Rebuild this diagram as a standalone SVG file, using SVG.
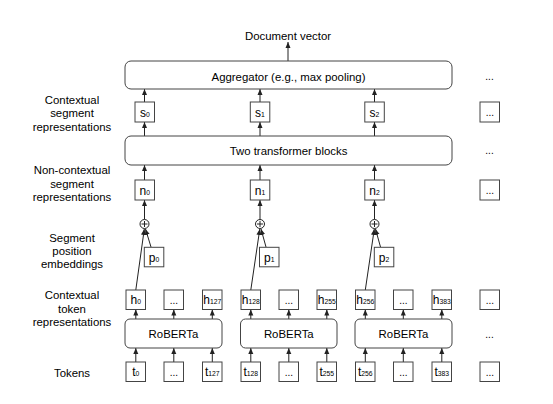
<svg xmlns="http://www.w3.org/2000/svg" width="553" height="404" viewBox="0 0 553 404">
<defs>
<style>
text{font-family:"Liberation Sans",Arial,sans-serif;fill:#000;}
.lbl{font-size:11.4px;text-anchor:middle;}
.bt{font-size:12px;text-anchor:middle;}
.sub{font-size:6.8px;}
.box{fill:#fff;stroke:#444;stroke-width:1;}
.rbox{fill:#fff;stroke:#444;stroke-width:1;}
.ln{fill:none;stroke:#222;stroke-width:1;marker-end:url(#ah);}
.dots{font-size:10px;text-anchor:middle;}
</style>
<marker id="ah" markerUnits="userSpaceOnUse" markerWidth="6" markerHeight="6" viewBox="0 0 6 6" refX="6" refY="3" orient="auto">
<path d="M0,0.5 L6,3 L0,5.5 Z" fill="#222"/>
</marker>
</defs>
<rect width="553" height="404" fill="#fff"/>

<g id="row-labels">
<text class="lbl" x="288" y="39.5">Document vector</text>
<text class="lbl" x="72" y="103.5">Contextual</text>
<text class="lbl" x="72" y="117">segment</text>
<text class="lbl" x="72" y="130.5">representations</text>
<text class="lbl" x="72" y="174">Non-contextual</text>
<text class="lbl" x="72" y="187.5">segment</text>
<text class="lbl" x="72" y="201">representations</text>
<text class="lbl" x="72" y="241.5">Segment</text>
<text class="lbl" x="72" y="255">position</text>
<text class="lbl" x="72" y="268">embeddings</text>
<text class="lbl" x="72" y="299">Contextual</text>
<text class="lbl" x="72" y="312.5">token</text>
<text class="lbl" x="72" y="326">representations</text>
<text class="lbl" x="72" y="377">Tokens</text>
</g>

<g id="connectors">
<line class="ln" x1="288" y1="61" x2="288" y2="42"/>
<line class="ln" x1="144.5" y1="102" x2="144.5" y2="89"/>
<line class="ln" x1="260" y1="102" x2="260" y2="89"/>
<line class="ln" x1="374.5" y1="102" x2="374.5" y2="89"/>
<line class="ln" x1="144.5" y1="136" x2="144.5" y2="122"/>
<line class="ln" x1="260" y1="136" x2="260" y2="122"/>
<line class="ln" x1="374.5" y1="136" x2="374.5" y2="122"/>
<line class="ln" x1="144.5" y1="180" x2="144.5" y2="165"/>
<line class="ln" x1="260" y1="180" x2="260" y2="165"/>
<line class="ln" x1="374.5" y1="180" x2="374.5" y2="165"/>
<line class="ln" x1="144.5" y1="219.5" x2="144.5" y2="200"/>
<line class="ln" x1="260" y1="219.5" x2="260" y2="200"/>
<line class="ln" x1="374.5" y1="219.5" x2="374.5" y2="200"/>
<line class="ln" x1="135.8" y1="290" x2="144.3" y2="229"/>
<line class="ln" x1="250.8" y1="290" x2="259.8" y2="229"/>
<line class="ln" x1="365.3" y1="290" x2="374.3" y2="229"/>
<line class="ln" x1="151" y1="247" x2="145.5" y2="229"/>
<line class="ln" x1="266" y1="247" x2="261" y2="229"/>
<line class="ln" x1="380.5" y1="247" x2="375.5" y2="229"/>
<line class="ln" x1="135.8" y1="319" x2="135.8" y2="309.5"/>
<line class="ln" x1="173.8" y1="319" x2="173.8" y2="309.5"/>
<line class="ln" x1="212.3" y1="319" x2="212.3" y2="309.5"/>
<line class="ln" x1="250.8" y1="319" x2="250.8" y2="309.5"/>
<line class="ln" x1="288.8" y1="319" x2="288.8" y2="309.5"/>
<line class="ln" x1="326.8" y1="319" x2="326.8" y2="309.5"/>
<line class="ln" x1="365.3" y1="319" x2="365.3" y2="309.5"/>
<line class="ln" x1="403.3" y1="319" x2="403.3" y2="309.5"/>
<line class="ln" x1="441.8" y1="319" x2="441.8" y2="309.5"/>
<line class="ln" x1="135.8" y1="362" x2="135.8" y2="348"/>
<line class="ln" x1="173.8" y1="362" x2="173.8" y2="348"/>
<line class="ln" x1="212.3" y1="362" x2="212.3" y2="348"/>
<line class="ln" x1="250.8" y1="362" x2="250.8" y2="348"/>
<line class="ln" x1="288.8" y1="362" x2="288.8" y2="348"/>
<line class="ln" x1="326.8" y1="362" x2="326.8" y2="348"/>
<line class="ln" x1="365.3" y1="362" x2="365.3" y2="348"/>
<line class="ln" x1="403.3" y1="362" x2="403.3" y2="348"/>
<line class="ln" x1="441.8" y1="362" x2="441.8" y2="348"/>
</g>

<g id="aggregator">
<rect class="rbox" x="125" y="61" width="327" height="28" rx="6"/>
<text class="lbl" x="288.5" y="80.5">Aggregator (e.g., max pooling)</text>
</g>
<g id="transformer">
<rect class="rbox" x="125" y="136" width="327" height="29" rx="6"/>
<text class="lbl" x="288.5" y="155">Two transformer blocks</text>
</g>

<g id="s0"><rect class="box" x="135" y="102" width="19.5" height="20"/><text class="bt" x="144.8" y="116.5">s<tspan class="sub">0</tspan></text></g>
<g id="s1"><rect class="box" x="250.3" y="102" width="19.5" height="20"/><text class="bt" x="260" y="116.5">s<tspan class="sub">1</tspan></text></g>
<g id="s2"><rect class="box" x="364.8" y="102" width="19.5" height="20"/><text class="bt" x="374.5" y="116.5">s<tspan class="sub">2</tspan></text></g>
<g id="s-more"><rect class="box" x="480" y="102" width="19.5" height="20"/><text class="dots" x="489.8" y="116">...</text></g>

<g id="n0"><rect class="box" x="135" y="180" width="19.5" height="20"/><text class="bt" x="144.8" y="194.5">n<tspan class="sub">0</tspan></text></g>
<g id="n1"><rect class="box" x="250.3" y="180" width="19.5" height="20"/><text class="bt" x="260" y="194.5">n<tspan class="sub">1</tspan></text></g>
<g id="n2"><rect class="box" x="364.8" y="180" width="19.5" height="20"/><text class="bt" x="374.5" y="194.5">n<tspan class="sub">2</tspan></text></g>
<g id="n-more"><rect class="box" x="480" y="180" width="19.5" height="20"/><text class="dots" x="489.8" y="194">...</text></g>

<g id="plus0"><circle cx="144.5" cy="224" r="4.5" fill="#fff" stroke="#222"/><path d="M141.5,224 H147.5 M144.5,221 V227" stroke="#222" stroke-width="1"/></g>
<g id="plus1"><circle cx="260" cy="224" r="4.5" fill="#fff" stroke="#222"/><path d="M257,224 H263 M260,221 V227" stroke="#222" stroke-width="1"/></g>
<g id="plus2"><circle cx="374.5" cy="224" r="4.5" fill="#fff" stroke="#222"/><path d="M371.5,224 H377.5 M374.5,221 V227" stroke="#222" stroke-width="1"/></g>

<g id="p0"><rect class="box" x="144.3" y="247.3" width="19.5" height="19.5"/><text class="bt" x="154" y="261.5">p<tspan class="sub">0</tspan></text></g>
<g id="p1"><rect class="box" x="259.5" y="247.3" width="19.5" height="19.5"/><text class="bt" x="269.3" y="261.5">p<tspan class="sub">1</tspan></text></g>
<g id="p2"><rect class="box" x="374.3" y="247.3" width="19.5" height="19.5"/><text class="bt" x="384" y="261.5">p<tspan class="sub">2</tspan></text></g>

<g id="h0"><rect class="box" x="126" y="290" width="19.5" height="19.5"/><text class="bt" x="135.8" y="304.3">h<tspan class="sub">0</tspan></text></g>
<g id="h-dots-0"><rect class="box" x="164" y="290" width="19.5" height="19.5"/><text class="dots" x="173.8" y="304">...</text></g>
<g id="h127"><rect class="box" x="202.5" y="290" width="19.5" height="19.5"/><text class="bt" x="212.3" y="304.3">h<tspan class="sub">127</tspan></text></g>
<g id="h128"><rect class="box" x="241" y="290" width="19.5" height="19.5"/><text class="bt" x="250.8" y="304.3">h<tspan class="sub">128</tspan></text></g>
<g id="h-dots-1"><rect class="box" x="279" y="290" width="19.5" height="19.5"/><text class="dots" x="288.8" y="304">...</text></g>
<g id="h255"><rect class="box" x="317" y="290" width="19.5" height="19.5"/><text class="bt" x="326.8" y="304.3">h<tspan class="sub">255</tspan></text></g>
<g id="h256"><rect class="box" x="355.5" y="290" width="19.5" height="19.5"/><text class="bt" x="365.3" y="304.3">h<tspan class="sub">256</tspan></text></g>
<g id="h-dots-2"><rect class="box" x="393.5" y="290" width="19.5" height="19.5"/><text class="dots" x="403.3" y="304">...</text></g>
<g id="h383"><rect class="box" x="432" y="290" width="19.5" height="19.5"/><text class="bt" x="441.8" y="304.3">h<tspan class="sub">383</tspan></text></g>
<g id="h-more"><rect class="box" x="480" y="290" width="19.5" height="19.5"/><text class="dots" x="489.8" y="304">...</text></g>

<g id="roberta0"><rect class="rbox" x="125" y="319" width="97" height="29" rx="5"/><text class="lbl" x="173.5" y="338">RoBERTa</text></g>
<g id="roberta1"><rect class="rbox" x="240.5" y="319" width="96.5" height="29" rx="5"/><text class="lbl" x="288.8" y="338">RoBERTa</text></g>
<g id="roberta2"><rect class="rbox" x="355" y="319" width="97" height="29" rx="5"/><text class="lbl" x="403.5" y="338">RoBERTa</text></g>

<g id="t0"><rect class="box" x="126" y="362" width="19.5" height="19.5"/><text class="bt" x="135.8" y="376.3">t<tspan class="sub">0</tspan></text></g>
<g id="t-dots-0"><rect class="box" x="164" y="362" width="19.5" height="19.5"/><text class="dots" x="173.8" y="376">...</text></g>
<g id="t127"><rect class="box" x="202.5" y="362" width="19.5" height="19.5"/><text class="bt" x="212.3" y="376.3">t<tspan class="sub">127</tspan></text></g>
<g id="t128"><rect class="box" x="241" y="362" width="19.5" height="19.5"/><text class="bt" x="250.8" y="376.3">t<tspan class="sub">128</tspan></text></g>
<g id="t-dots-1"><rect class="box" x="279" y="362" width="19.5" height="19.5"/><text class="dots" x="288.8" y="376">...</text></g>
<g id="t255"><rect class="box" x="317" y="362" width="19.5" height="19.5"/><text class="bt" x="326.8" y="376.3">t<tspan class="sub">255</tspan></text></g>
<g id="t256"><rect class="box" x="355.5" y="362" width="19.5" height="19.5"/><text class="bt" x="365.3" y="376.3">t<tspan class="sub">256</tspan></text></g>
<g id="t-dots-2"><rect class="box" x="393.5" y="362" width="19.5" height="19.5"/><text class="dots" x="403.3" y="376">...</text></g>
<g id="t383"><rect class="box" x="432" y="362" width="19.5" height="19.5"/><text class="bt" x="441.8" y="376.3">t<tspan class="sub">383</tspan></text></g>
<g id="t-more"><rect class="box" x="480" y="362" width="19.5" height="19.5"/><text class="dots" x="489.8" y="376">...</text></g>

<g id="more-labels">
<text class="dots" x="489.5" y="80">...</text>
<text class="dots" x="489.5" y="154">...</text>
<text class="dots" x="489.5" y="338">...</text>
</g>
</svg>
